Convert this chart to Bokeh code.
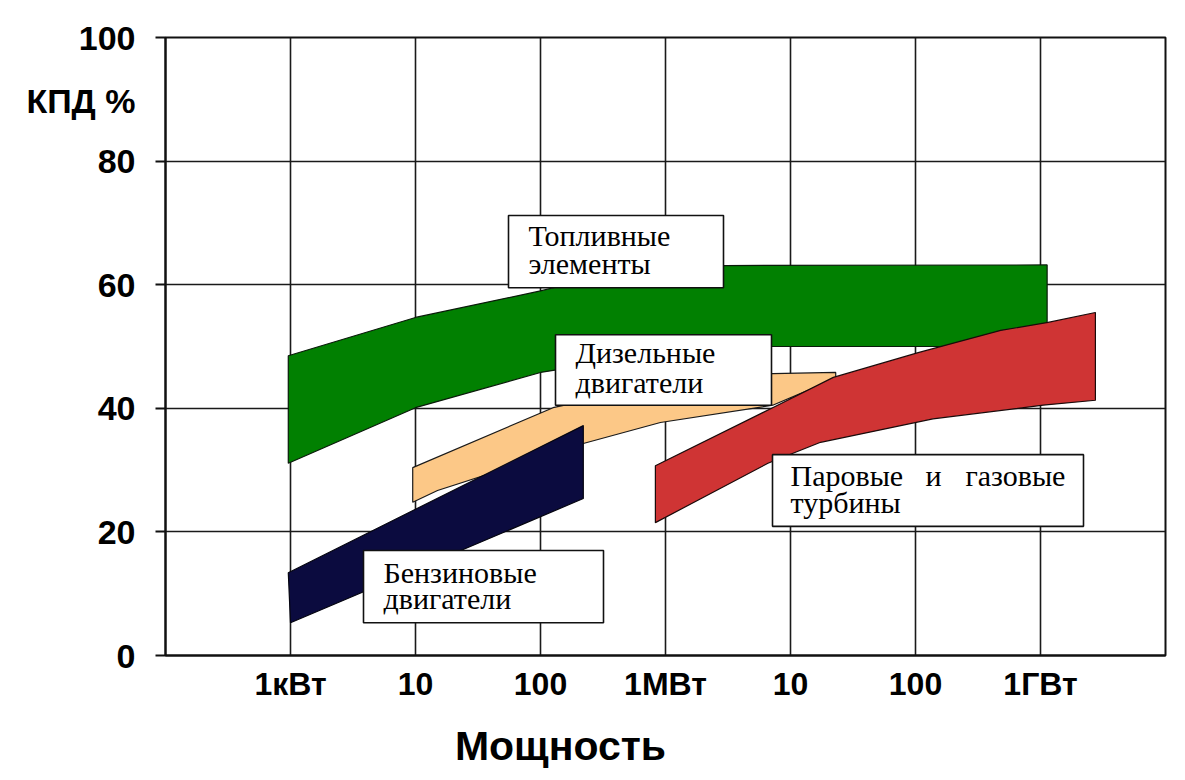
from bokeh.plotting import figure
from bokeh.models import Range1d, FixedTicker, LogAxis
from bokeh.core.properties import value
from bokeh.embed import file_html
from bokeh.resources import INLINE

# ---------------- data (power in W, efficiency in %) ----------------
power_ticks = [10**3, 10**4, 10**5, 10**6, 10**7, 10**8, 10**9]
power_tick_labels = ["1кВт", "10", "100", "1МВт", "10", "100", "1ГВт"]
eff_ticks = [0, 20, 40, 60, 80, 100]

fuel_top_x = [9.6e2, 1e4, 1e5, 3.2e5, 1e6, 3.0e6, 1.13e9]
fuel_top_y = [48.5, 54.7, 59.0, 61.5, 62.6, 63.1, 63.2]
fuel_bot_x = [9.6e2, 1e4, 1e5, 1e6, 3.0e6, 1.13e9]
fuel_bot_y = [31.1, 40.1, 45.8, 49.0, 50.0, 50.0]

diesel_top_x = [9.5e3, 1.26e5, 1e6, 7.2e6, 2.3e7]
diesel_top_y = [30.4, 40.1, 44.0, 45.6, 45.8]
diesel_bot_x = [9.5e3, 1.5e4, 2.2e5, 9.1e5, 7.2e6, 2.3e7]
diesel_bot_y = [24.8, 26.7, 34.3, 37.7, 40.5, 44.8]

petrol_top_x = [9.6e2, 2.2e5]
petrol_top_y = [13.4, 37.2]
petrol_bot_x = [1.0e3, 2.2e5]
petrol_bot_y = [5.3, 25.4]

turbine_top_x = [8.3e5, 7.2e6, 2.2e7, 1.05e8, 4.8e8, 1.15e9, 2.75e9]
turbine_top_y = [30.7, 40.1, 45.0, 49.0, 52.6, 53.9, 55.5]
turbine_bot_x = [8.3e5, 6.6e6, 1.74e7, 4.2e7, 1.38e8, 1.05e9, 2.75e9]
turbine_bot_y = [21.5, 31.1, 34.5, 36.1, 38.3, 40.5, 41.3]

y_title = "КПД %"
x_title = "Мощность"

# ---------------- figure ----------------
p = figure(width=1180, height=775, output_backend="svg", toolbar_location=None,
           x_axis_type="log", x_range=Range1d(1e2, 1e10), y_range=Range1d(0, 100),
           min_border_left=165, min_border_right=15, min_border_top=37,
           min_border_bottom=120)
p.background_fill_color = "white"
p.border_fill_color = "white"
p.outline_line_color = "#111111"
p.outline_line_width = 2

p.xaxis.ticker = FixedTicker(ticks=power_ticks)
p.xaxis.major_label_overrides = {t: l for t, l in zip(power_ticks, power_tick_labels)}
p.xaxis.minor_tick_line_color = None
p.xaxis.major_tick_out = 0
p.xaxis.major_tick_in = 0
p.xaxis.axis_line_color = "#111111"
p.xaxis.axis_line_width = 2
p.xaxis.major_label_text_font = "Liberation Sans"
p.xaxis.major_label_text_font_style = "bold"
p.xaxis.major_label_text_font_size = "32px"
p.xaxis.major_label_text_color = "black"
p.xaxis.major_label_standoff = 10

# y axis: numeric ticks + the "КПД %" title placed as an extra labelled tick
y_title_pos = 89.8
p.yaxis.ticker = FixedTicker(ticks=eff_ticks + [y_title_pos], minor_ticks=eff_ticks)
p.yaxis.major_label_overrides = {y_title_pos: y_title}
p.yaxis.major_tick_out = 0
p.yaxis.major_tick_in = 0
p.yaxis.minor_tick_out = 10
p.yaxis.minor_tick_in = 0
p.yaxis.minor_tick_line_color = "#111111"
p.yaxis.minor_tick_line_width = 2
p.yaxis.axis_line_color = "#111111"
p.yaxis.axis_line_width = 2
p.yaxis.major_label_text_font = "Liberation Sans"
p.yaxis.major_label_text_font_style = "bold"
p.yaxis.major_label_text_font_size = "34px"
p.yaxis.major_label_text_color = "black"
p.yaxis.major_label_standoff = 20

p.xgrid.grid_line_color = "#1a1a1a"
p.xgrid.grid_line_width = 1.6
p.ygrid.ticker = FixedTicker(ticks=eff_ticks)
p.ygrid.grid_line_color = "#1a1a1a"
p.ygrid.grid_line_width = 1.6

# second bottom axis carrying the x title at its place
x_title_pos = 144544
title_axis = LogAxis(ticker=FixedTicker(ticks=[x_title_pos]),
                     major_label_overrides={x_title_pos: x_title},
                     axis_line_color=None, major_tick_line_color=None,
                     minor_tick_line_color=None, major_label_standoff=12,
                     major_label_text_font="Liberation Sans",
                     major_label_text_font_style="bold",
                     major_label_text_font_size="41px",
                     major_label_text_color="black")
p.add_layout(title_axis, "below")

def band(tx, ty, bx, by):
    return list(tx) + list(bx)[::-1], list(ty) + list(by)[::-1]

xs, ys = band(fuel_top_x, fuel_top_y, fuel_bot_x, fuel_bot_y)
p.patch(xs, ys, fill_color="#018001", line_color="#0a1a0a", line_width=1.2)
xs, ys = band(diesel_top_x, diesel_top_y, diesel_bot_x, diesel_bot_y)
p.patch(xs, ys, fill_color="#FCC887", line_color="#1a1a1a", line_width=1.2)
xs, ys = band(petrol_top_x, petrol_top_y, petrol_bot_x, petrol_bot_y)
p.patch(xs, ys, fill_color="#0B0B3F", line_color="#050510", line_width=1.2)
xs, ys = band(turbine_top_x, turbine_top_y, turbine_bot_x, turbine_bot_y)
p.patch(xs, ys, fill_color="#CF3434", line_color="#1a0a0a", line_width=1.2)

# ---------------- label boxes (positions in decades / %) ----------------
box_left_e = [4.744, 5.12, 3.584, 6.856]
box_right_e = [6.464, 6.848, 5.504, 9.344]
box_top = [71.2, 51.9, 17.0, 32.5]
box_bottom = [59.5, 40.5, 5.3, 20.9]
p.quad(left=[10**e for e in box_left_e], right=[10**e for e in box_right_e],
       top=box_top, bottom=box_bottom, fill_color="white",
       line_color="#111111", line_width=1.6)

text_e = [4.904, 4.904, 5.28, 5.28, 3.744, 3.744, 7.0, 8.08, 8.40, 7.0]
text_y = [67.9, 63.5, 49.0, 44.2, 13.4, 9.2, 29.1, 29.1, 29.1, 24.7]
text_s = ["Топливные", "элементы", "Дизельные", "двигатели", "Бензиновые",
          "двигатели", "Паровые", "и", "газовые", "турбины"]
p.text(x=[10**e for e in text_e], y=text_y, text=text_s,
       text_font=value("Liberation Serif"), text_font_size="30px",
       text_color="black", text_align="left", text_baseline="alphabetic")

open("out.html", "w").write(file_html(p, INLINE))
